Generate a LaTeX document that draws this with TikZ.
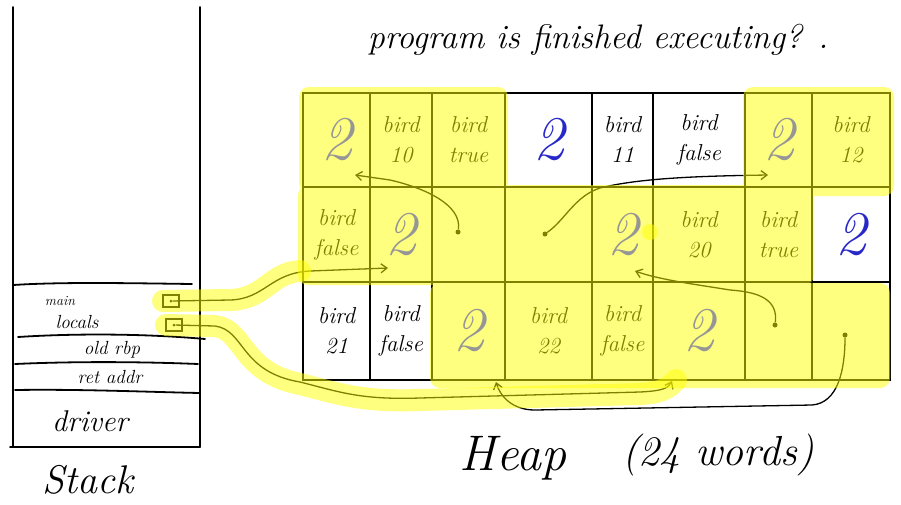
\documentclass[tikz,border=0pt]{standalone}
\usetikzlibrary{arrows.meta,calc}
\definecolor{hl}{RGB}{255,255,0}
\definecolor{graytwo}{RGB}{150,150,150}
\definecolor{bluetwo}{RGB}{40,40,200}
\begin{document}
\begin{tikzpicture}[x=1pt,y=-1pt,
  cellbox/.style={draw,line width=1.4pt,rectangle,inner sep=0pt},
  celltext/.style={align=center,inner sep=0pt,font=\fontsize{23}{30}\selectfont\itshape},
  twog/.style={inner sep=0pt,text=graytwo,font=\fontsize{62}{62}\selectfont\itshape},
  twob/.style={inner sep=0pt,text=bluetwo,font=\fontsize{62}{62}\selectfont\itshape},
  ink/.style={line width=1.8pt,line cap=round},
  ptr/.style={line width=1.3pt,-{Straight Barb[length=6pt,width=9pt]}},
  dotpt/.style={circle,fill,inner sep=0pt,minimum size=5pt},
  smallbox/.style={draw,line width=1.3pt,minimum width=16pt,minimum height=12pt,inner sep=0pt},
  hlstroke/.style={hl,opacity=0.5,line width=22pt,line cap=round,line join=round},
  lbl/.style={inner sep=0pt,font=\itshape}]
\useasboundingbox (0,0) rectangle (901,504);

% ---------- stack ----------
\draw[ink] (13,7) -- (13,447);
\draw[ink] (200,7) -- (200,447);
\draw[ink] (13,285) .. controls (60,282) and (120,283) .. (192,284);
\draw[ink] (18,337) .. controls (80,333) and (150,334) .. (205,339);
\draw[ink] (15,364) .. controls (80,361) and (150,362) .. (198,364);
\draw[ink] (15,390) .. controls (80,389) and (150,392) .. (200,393);
\draw[ink] (10,447) -- (200,447);
\node[lbl,font=\fontsize{14}{14}\selectfont\itshape] (lmain) at (60,301) {main};
\node[lbl,font=\fontsize{19}{19}\selectfont\itshape] (llocals) at (77,322) {locals};
\node[lbl,font=\fontsize{19}{19}\selectfont\itshape] (lrbp) at (112,350) {old rbp};
\node[lbl,font=\fontsize{19}{19}\selectfont\itshape] (lret) at (110,377) {ret addr};
\node[lbl,font=\fontsize{30}{30}\selectfont\itshape] (ldriver) at (90,421) {driver};
\node[lbl,font=\fontsize{40}{40}\selectfont\itshape] (lstack) at (88,480) {Stack};
\node[smallbox] (sb1) at (171,301) {};
\node[smallbox] (sb2) at (174,325) {};
\node[dotpt,minimum size=3pt] (sd1) at (sb1.center) {};
\node[dotpt,minimum size=3pt] (sd2) at (sb2.center) {};

% ---------- heap grid ----------
\foreach \r/\yt/\yb in {1/93/187,2/187/282,3/282/380}{
  \foreach \c/\xl/\xr in {1/303/370,2/370/432,3/432/505,4/505/592,5/592/653,6/653/745,7/745/812,8/812/890}{
    \node[cellbox,minimum width={(\xr-\xl)*1pt},minimum height={(\yb-\yt)*1pt}]
      (cell-\r-\c) at ({(\xl+\xr)/2},{(\yt+\yb)/2}) {};
  }
}
% black text in cells
\node[celltext] (t12) at (cell-1-2) {bird\\10};
\node[celltext] (t13) at (cell-1-3) {bird\\true};
\node[celltext] (t15) at (cell-1-5) {bird\\11};
\node[celltext] (t16) at (cell-1-6) {bird\\false};
\node[celltext] (t18) at (cell-1-8) {bird\\12};
\node[celltext] (t21) at (cell-2-1) {bird\\false};
\node[celltext] (t26) at (cell-2-6) {bird\\20};
\node[celltext] (t27) at (cell-2-7) {bird\\true};
\node[celltext] (t31) at (cell-3-1) {bird\\21};
\node[celltext] (t32) at (cell-3-2) {bird\\false};
\node[celltext] (t34) at (cell-3-4) {bird\\22};
\node[celltext] (t35) at (cell-3-5) {bird\\false};

% pointer dots and targets
\node[dotpt] (d23) at (458,232) {};
\node[dotpt] (d24) at (545,234) {};
\node[dotpt] (d37) at (775,325) {};
\node[dotpt] (d38) at (845,335) {};
\coordinate (e11) at (355,175);
\coordinate (e17) at (768,175);
\coordinate (e25) at (635,271);
\coordinate (e33) at (496,382);
\coordinate (e22) at (388,268);
\coordinate (e36) at (672,381);

% pointers
\draw[ptr] (d23) .. controls (462,205) and (425,188) .. (390,180) -- (e11);
\draw[ptr] (d24) .. controls (565,220) and (575,196) .. (600,188) .. controls (640,178) and (700,176) .. (e17);
\draw[ptr] (d37) .. controls (778,300) and (760,292) .. (730,290) .. controls (700,285) and (660,280) .. (e25);
\draw[ptr] (d38) .. controls (845,370) and (838,403) .. (812,405) -- (535,410) .. controls (512,410) and (500,396) .. (e33);
\draw[ptr] (sd1) -- (230,300) .. controls (265,299) and (270,273) .. (310,271) -- (e22);
\draw[ptr] (sd2) -- (215,326) .. controls (245,330) and (240,372) .. (300,382) .. controls (340,392) and (360,400) .. (420,398) -- (640,392) .. controls (660,391) and (668,389) .. (e36);

% ---------- highlighter ----------
\fill[hl,opacity=0.5,rounded corners=10pt]
  (299,87) rectangle (508,193)
  (743,87) rectangle (894,196)
  (298,185) rectangle (814,285)
  (430,283) rectangle (890,388);
\draw[hlstroke] (163,301) -- (230,300) .. controls (265,299) and (270,273) .. (300,271);
\draw[hlstroke] (166,325) -- (215,326) .. controls (245,330) and (240,372) .. (300,384) .. controls (340,394) and (360,402) .. (420,400) -- (640,394) .. controls (660,393) and (668,389) .. (676,380);
\fill[hl,opacity=0.5] (650,232) circle (8pt);

% ---------- numbers drawn on top ----------
\node[twog] (n11) at (cell-1-1) {2};
\node[twob] (n14) at (cell-1-4) {2};
\node[twog] (n17) at (cell-1-7) {2};
\node[twog] (n22) at (cell-2-2) {2};
\node[twog] (n25) at (cell-2-5) {2};
\node[twob] (n28) at (cell-2-8) {2};
\node[twog] (n33) at (cell-3-3) {2};
\node[twog] (n36) at (cell-3-6) {2};

% ---------- captions ----------
\node[lbl,font=\fontsize{34}{34}\selectfont\itshape] (q) at (598,40) {program is finished executing? .};
\node[lbl,font=\fontsize{50}{50}\selectfont\itshape] (lheap) at (513,458) {Heap};
\node[lbl,font=\fontsize{42}{42}\selectfont\itshape] (lwords) at (718,455) {(24 words)};
\end{tikzpicture}
\end{document}
